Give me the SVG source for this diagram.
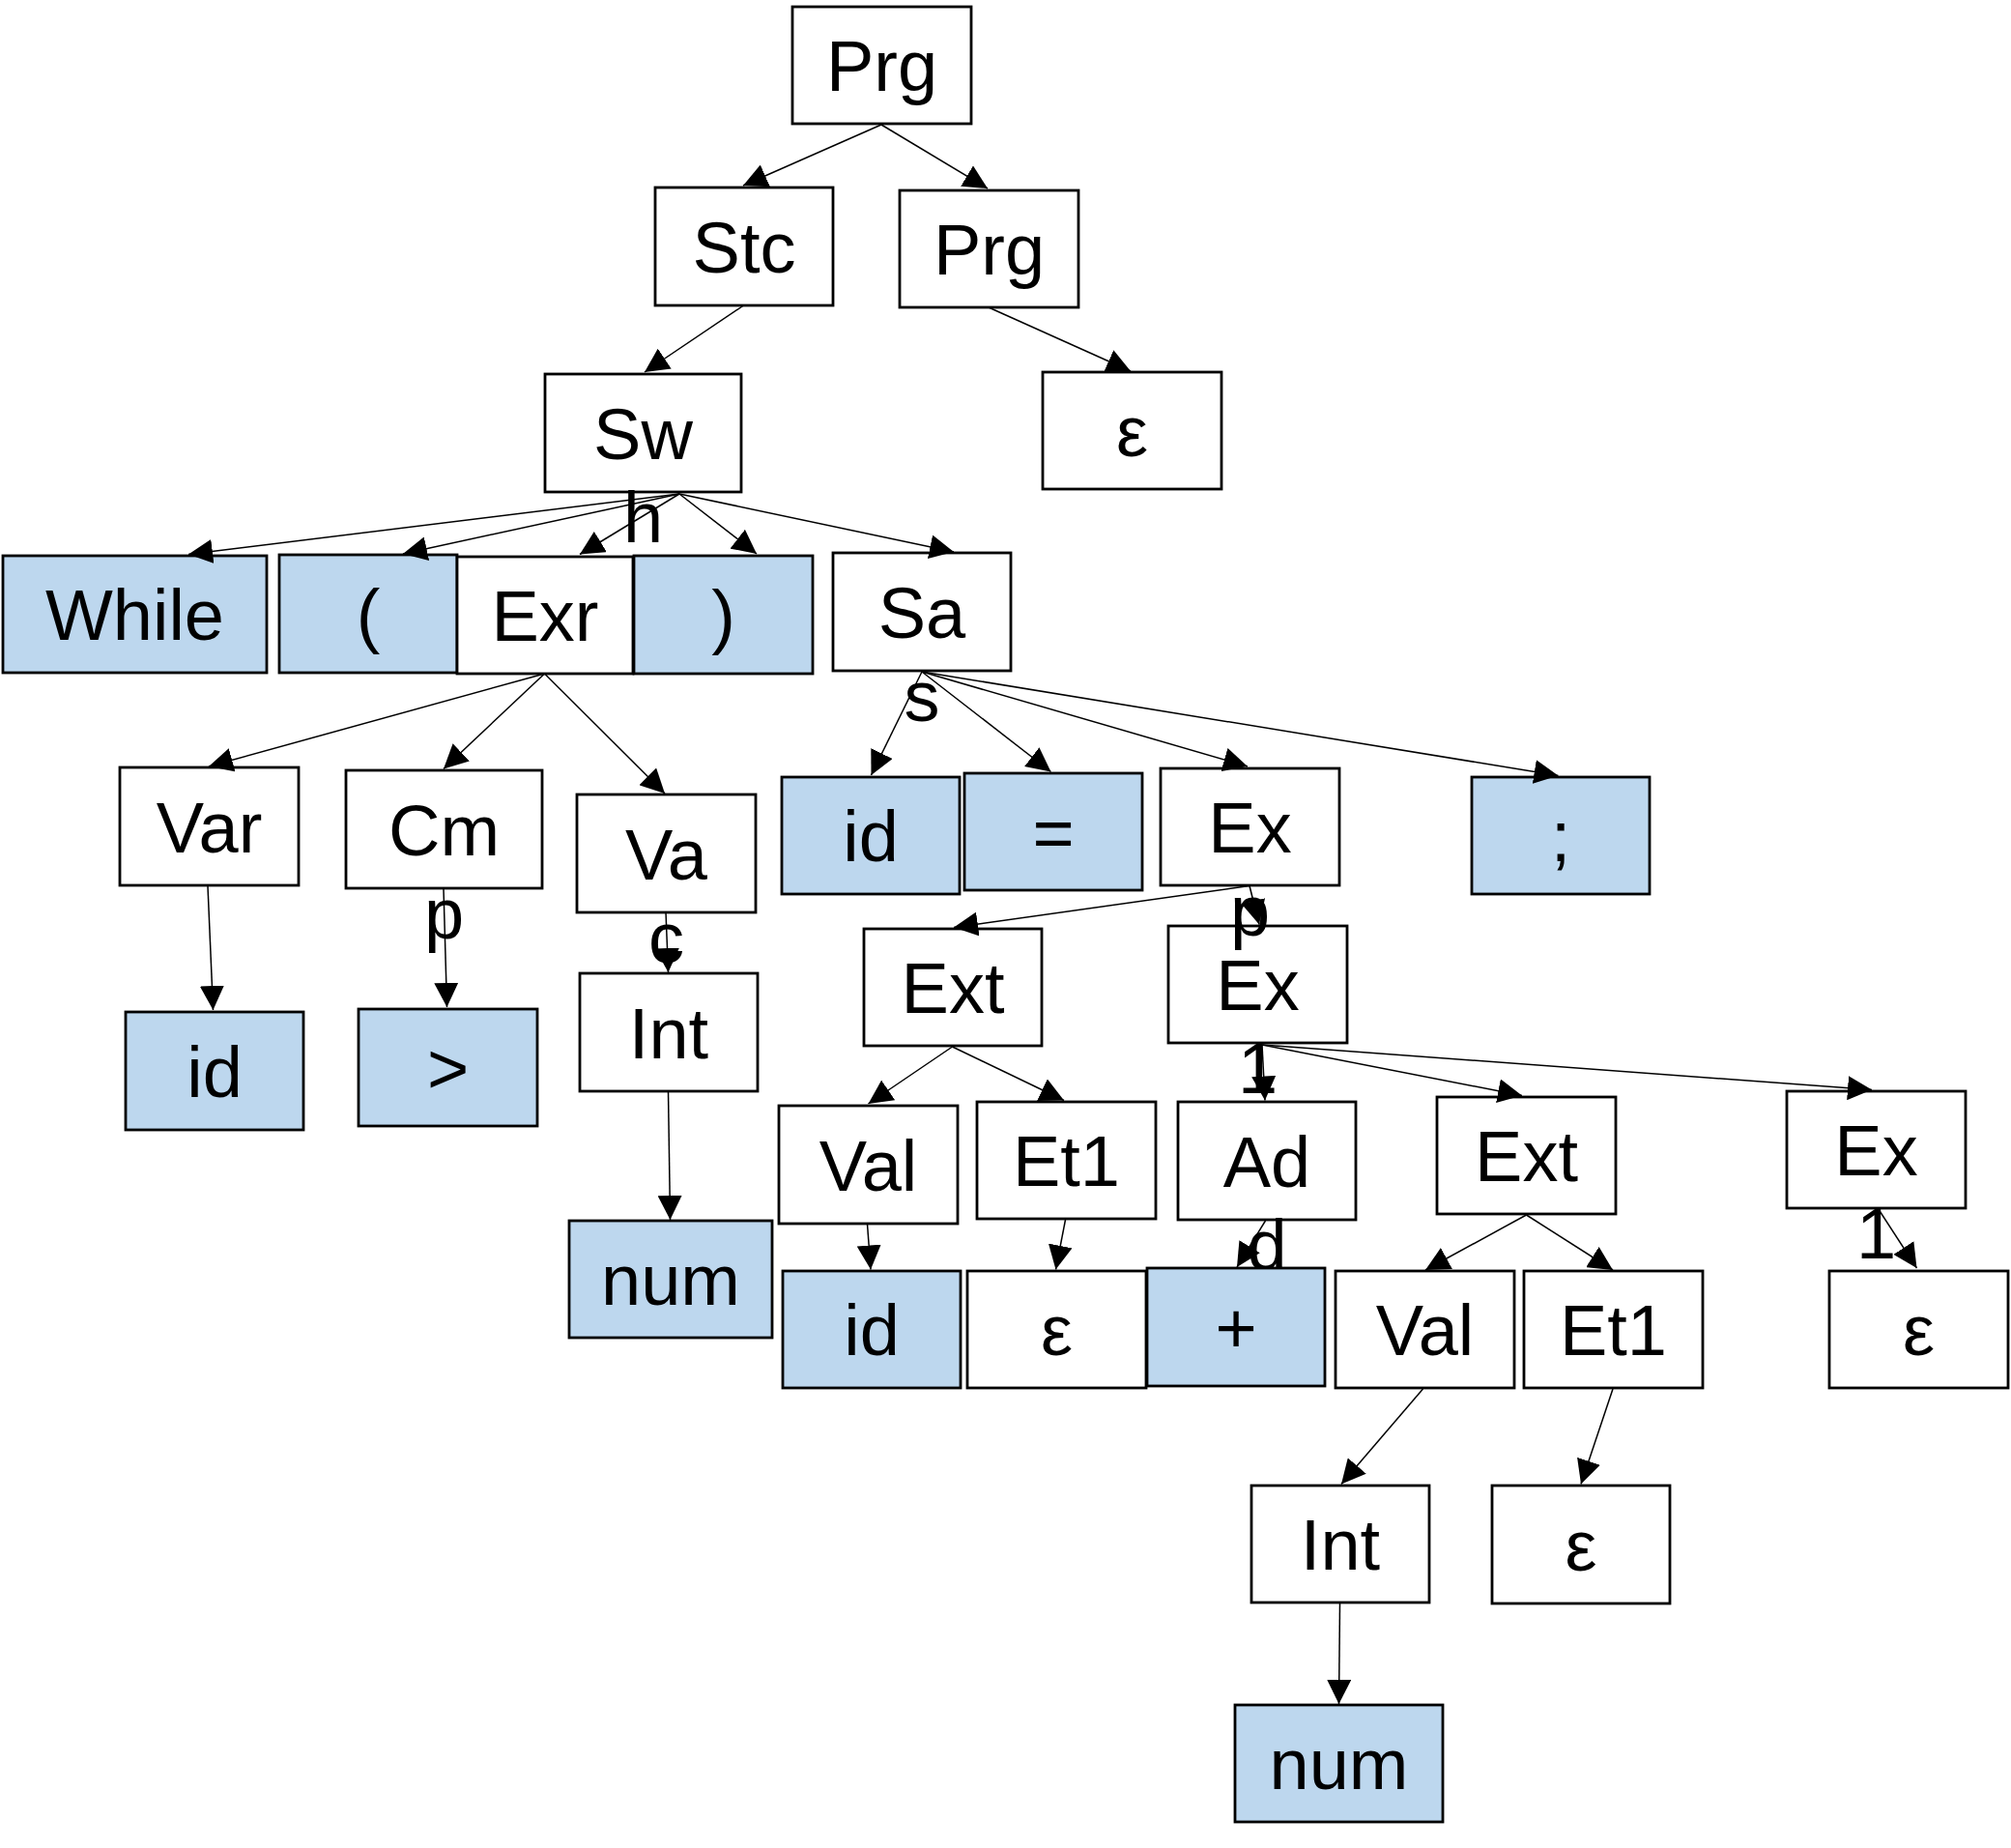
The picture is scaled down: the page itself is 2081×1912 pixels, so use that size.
<svg xmlns="http://www.w3.org/2000/svg" width="2081" height="1912" viewBox="0 0 2081 1912">
<style>
.box{fill:#ffffff;stroke:#000000;stroke-width:2.8}
.term{fill:#BDD7EE}
.lbl{font-family:"Liberation Sans",Arial,sans-serif;font-size:74px;text-anchor:middle;fill:#000000}
.edge{stroke:#000000;stroke-width:1.5;fill:none;marker-end:url(#arr)}
</style>
<defs>
<marker id="arr" markerUnits="userSpaceOnUse" viewBox="0 0 25 25" markerWidth="25" markerHeight="25" refX="25" refY="12.5" orient="auto">
<path d="M0,0 L25,12.5 L0,25 z" fill="#000000"/>
</marker>
</defs>
<rect x="0" y="0" width="2081" height="1912" fill="#ffffff"/>
<g id="nodes">
<g id="n1"><rect class="box" x="820" y="7" width="185" height="121"/><text class="lbl" x="912.5" y="94">Prg</text></g>
<g id="n2"><rect class="box" x="678" y="194" width="184" height="122"/><text class="lbl" x="770" y="281.5">Stc</text></g>
<g id="n3"><rect class="box" x="931" y="197" width="185" height="121"/><text class="lbl" x="1023.5" y="284">Prg</text></g>
<g id="n4"><rect class="box" x="564" y="387" width="203" height="122"/><text class="lbl" x="665.5" y="474.5">Sw</text><text class="lbl" x="665.5" y="560.5">h</text></g>
<g id="n5"><rect class="box" x="1079" y="385" width="185" height="121"/><text class="lbl" x="1171.5" y="472">ε</text></g>
<g id="n6"><rect class="box term" x="3" y="575" width="273" height="121"/><text class="lbl" x="139.5" y="662">While</text></g>
<g id="n7"><rect class="box term" x="289" y="574" width="184" height="122"/><text class="lbl" x="381" y="661.5">(</text></g>
<g id="n8"><rect class="box" x="473" y="576" width="182" height="121"/><text class="lbl" x="564" y="663">Exr</text></g>
<g id="n9"><rect class="box term" x="656" y="575" width="185" height="122"/><text class="lbl" x="748.5" y="662.5">)</text></g>
<g id="n10"><rect class="box" x="862" y="572" width="184" height="122"/><text class="lbl" x="954" y="659.5">Sa</text><text class="lbl" x="954" y="745.5">s</text></g>
<g id="n11"><rect class="box" x="124" y="794" width="185" height="122"/><text class="lbl" x="216.5" y="881.5">Var</text></g>
<g id="n12"><rect class="box" x="358" y="797" width="203" height="122"/><text class="lbl" x="459.5" y="884.5">Cm</text><text class="lbl" x="459.5" y="970.5">p</text></g>
<g id="n13"><rect class="box" x="597" y="822" width="185" height="122"/><text class="lbl" x="689.5" y="909.5">Va</text><text class="lbl" x="689.5" y="995.5">c</text></g>
<g id="n14"><rect class="box term" x="809" y="804" width="184" height="121"/><text class="lbl" x="901" y="891">id</text></g>
<g id="n15"><rect class="box term" x="998" y="800" width="184" height="121"/><text class="lbl" x="1090" y="887">=</text></g>
<g id="n23"><rect class="box" x="1209" y="958" width="185" height="121"/><text class="lbl" x="1301.5" y="1045">Ex</text><text class="lbl" x="1301.5" y="1131">1</text></g>
<g id="n16"><rect class="box" x="1201" y="795" width="185" height="121"/><text class="lbl" x="1293.5" y="882">Ex</text><text class="lbl" x="1293.5" y="968">p</text></g>
<g id="n17"><rect class="box term" x="1523" y="804" width="184" height="121"/><text class="lbl" x="1615" y="891">;</text></g>
<g id="n18"><rect class="box term" x="130" y="1047" width="184" height="122"/><text class="lbl" x="222" y="1134.5">id</text></g>
<g id="n19"><rect class="box term" x="371" y="1044" width="185" height="121"/><text class="lbl" x="463.5" y="1131">&gt;</text></g>
<g id="n20"><rect class="box" x="600" y="1007" width="184" height="122"/><text class="lbl" x="692" y="1094.5">Int</text></g>
<g id="n21"><rect class="box term" x="589" y="1263" width="210" height="121"/><text class="lbl" x="694" y="1350">num</text></g>
<g id="n22"><rect class="box" x="894" y="961" width="184" height="121"/><text class="lbl" x="986" y="1048">Ext</text></g>
<g id="n24"><rect class="box" x="806" y="1144" width="185" height="122"/><text class="lbl" x="898.5" y="1231.5">Val</text></g>
<g id="n25"><rect class="box" x="1011" y="1140" width="185" height="121"/><text class="lbl" x="1103.5" y="1227">Et1</text></g>
<g id="n26"><rect class="box" x="1219" y="1140" width="184" height="122"/><text class="lbl" x="1311" y="1227.5">Ad</text><text class="lbl" x="1311" y="1313.5">d</text></g>
<g id="n27"><rect class="box" x="1487" y="1135" width="185" height="121"/><text class="lbl" x="1579.5" y="1222">Ext</text></g>
<g id="n28"><rect class="box" x="1849" y="1129" width="185" height="121"/><text class="lbl" x="1941.5" y="1216">Ex</text><text class="lbl" x="1941.5" y="1302">1</text></g>
<g id="n29"><rect class="box term" x="810" y="1315" width="184" height="121"/><text class="lbl" x="902" y="1402">id</text></g>
<g id="n30"><rect class="box" x="1001" y="1315" width="185" height="121"/><text class="lbl" x="1093.5" y="1402">ε</text></g>
<g id="n31"><rect class="box term" x="1187" y="1312" width="184" height="122"/><text class="lbl" x="1279" y="1399.5">+</text></g>
<g id="n32"><rect class="box" x="1382" y="1315" width="185" height="121"/><text class="lbl" x="1474.5" y="1402">Val</text></g>
<g id="n33"><rect class="box" x="1577" y="1315" width="185" height="121"/><text class="lbl" x="1669.5" y="1402">Et1</text></g>
<g id="n34"><rect class="box" x="1893" y="1315" width="185" height="121"/><text class="lbl" x="1985.5" y="1402">ε</text></g>
<g id="n35"><rect class="box" x="1295" y="1537" width="184" height="121"/><text class="lbl" x="1387" y="1624">Int</text></g>
<g id="n36"><rect class="box" x="1544" y="1537" width="184" height="122"/><text class="lbl" x="1636" y="1624.5">ε</text></g>
<g id="n37"><rect class="box term" x="1278" y="1764" width="215" height="121"/><text class="lbl" x="1385.5" y="1851">num</text></g>
</g>
<g id="connectors">
<path class="edge" d="M912,129 L769,192"/>
<path class="edge" d="M912,129 L1022,195"/>
<path class="edge" d="M769.5,316 L667,385"/>
<path class="edge" d="M1023,318 L1170,384"/>
<path class="edge" d="M703,511 L195,573.5"/>
<path class="edge" d="M703,511 L417,573"/>
<path class="edge" d="M703,511 L600,573.5"/>
<path class="edge" d="M703,511 L783,573"/>
<path class="edge" d="M703,511 L987,571"/>
<path class="edge" d="M563.5,697 L216,793"/>
<path class="edge" d="M563.5,697 L459,795.5"/>
<path class="edge" d="M563.5,697 L688,821"/>
<path class="edge" d="M215,917 L220.5,1045"/>
<path class="edge" d="M459,920 L462.5,1042"/>
<path class="edge" d="M689,944 L691.5,1006"/>
<path class="edge" d="M691.5,1129 L693.5,1262"/>
<path class="edge" d="M954,695 L901.5,802"/>
<path class="edge" d="M954,695 L1087.5,798.5"/>
<path class="edge" d="M954,695 L1291,793"/>
<path class="edge" d="M954,695 L1612.5,802.5"/>
<path class="edge" d="M1293,916.5 L987,959.5"/>
<path class="edge" d="M1293,916.5 L1303,956.5"/>
<path class="edge" d="M985.5,1083 L898.5,1142"/>
<path class="edge" d="M985.5,1083 L1101,1138.5"/>
<path class="edge" d="M897.5,1266.5 L901,1313.5"/>
<path class="edge" d="M1102.5,1262 L1092.5,1313.5"/>
<path class="edge" d="M1306,1081 L1309,1138.5"/>
<path class="edge" d="M1306,1081 L1575,1133.5"/>
<path class="edge" d="M1306,1081 L1937,1127.5"/>
<path class="edge" d="M1309.5,1263 L1280,1311"/>
<path class="edge" d="M1579.5,1257 L1475,1314"/>
<path class="edge" d="M1579.5,1257 L1669,1314"/>
<path class="edge" d="M1943.5,1250.5 L1983.5,1312"/>
<path class="edge" d="M1472.5,1437 L1388,1535.5"/>
<path class="edge" d="M1669,1437 L1636,1535.5"/>
<path class="edge" d="M1386.5,1659 L1385.5,1763"/>
</g>
</svg>
